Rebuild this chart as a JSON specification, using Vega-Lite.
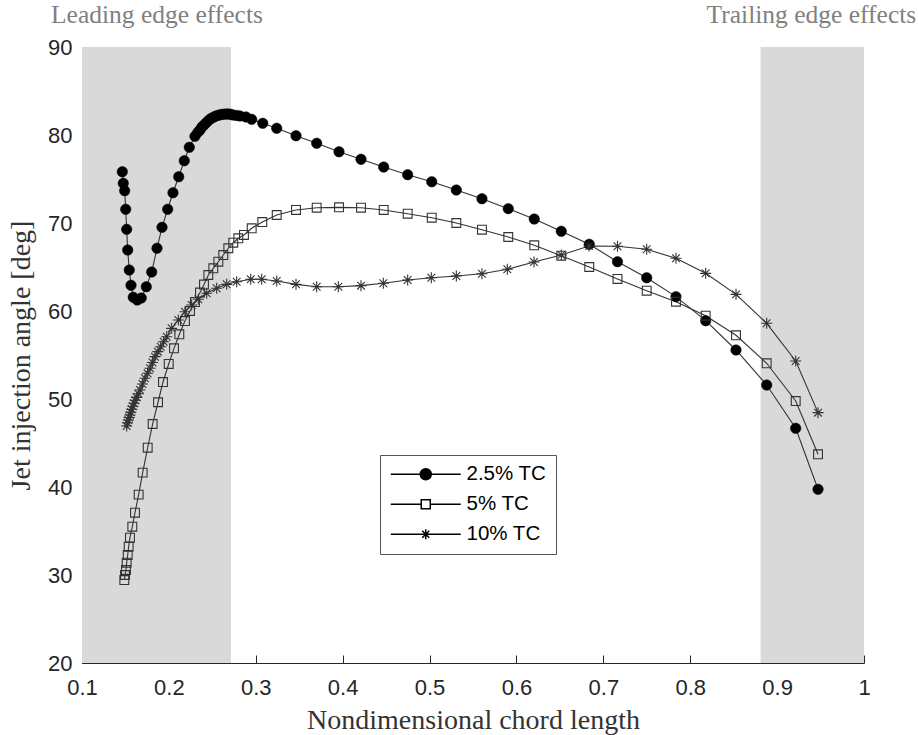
{
  "$schema": "https://vega.github.io/schema/vega-lite/v6.json",
  "width": 782,
  "height": 616,
  "autosize": "none",
  "padding": {"left": 82, "top": 47, "right": 54, "bottom": 72},
  "background": "white",
  "datasets": {
    "bands": [
      {"start": 0.1, "end": 0.2715, "label": "Leading edge effects", "mid": 0.1863},
      {"start": 0.881, "end": 1.0, "label": "Trailing edge effects", "mid": 0.9395}
    ],
    "points": [
      {"series": "2.5% TC", "x": 0.1464, "y": 75.83},
      {"series": "2.5% TC", "x": 0.1475, "y": 74.51},
      {"series": "2.5% TC", "x": 0.1491, "y": 73.67},
      {"series": "2.5% TC", "x": 0.1503, "y": 71.56},
      {"series": "2.5% TC", "x": 0.1514, "y": 69.28},
      {"series": "2.5% TC", "x": 0.1526, "y": 66.93},
      {"series": "2.5% TC", "x": 0.1544, "y": 64.66},
      {"series": "2.5% TC", "x": 0.1564, "y": 62.92},
      {"series": "2.5% TC", "x": 0.159, "y": 61.56},
      {"series": "2.5% TC", "x": 0.1636, "y": 61.25},
      {"series": "2.5% TC", "x": 0.1682, "y": 61.48},
      {"series": "2.5% TC", "x": 0.174, "y": 62.76},
      {"series": "2.5% TC", "x": 0.1802, "y": 64.43},
      {"series": "2.5% TC", "x": 0.1863, "y": 67.13},
      {"series": "2.5% TC", "x": 0.1921, "y": 69.51},
      {"series": "2.5% TC", "x": 0.1986, "y": 71.56},
      {"series": "2.5% TC", "x": 0.2047, "y": 73.44},
      {"series": "2.5% TC", "x": 0.2113, "y": 75.26},
      {"series": "2.5% TC", "x": 0.2177, "y": 77.08},
      {"series": "2.5% TC", "x": 0.2235, "y": 78.6},
      {"series": "2.5% TC", "x": 0.23, "y": 79.85},
      {"series": "2.5% TC", "x": 0.2333, "y": 80.3},
      {"series": "2.5% TC", "x": 0.2358, "y": 80.57},
      {"series": "2.5% TC", "x": 0.238, "y": 80.9},
      {"series": "2.5% TC", "x": 0.2404, "y": 81.14},
      {"series": "2.5% TC", "x": 0.243, "y": 81.4},
      {"series": "2.5% TC", "x": 0.2454, "y": 81.63},
      {"series": "2.5% TC", "x": 0.248, "y": 81.85},
      {"series": "2.5% TC", "x": 0.2511, "y": 82.01},
      {"series": "2.5% TC", "x": 0.254, "y": 82.15},
      {"series": "2.5% TC", "x": 0.2569, "y": 82.24},
      {"series": "2.5% TC", "x": 0.26, "y": 82.32},
      {"series": "2.5% TC", "x": 0.2626, "y": 82.35},
      {"series": "2.5% TC", "x": 0.2655, "y": 82.38},
      {"series": "2.5% TC", "x": 0.2684, "y": 82.39},
      {"series": "2.5% TC", "x": 0.271, "y": 82.35},
      {"series": "2.5% TC", "x": 0.2738, "y": 82.27},
      {"series": "2.5% TC", "x": 0.278, "y": 82.22},
      {"series": "2.5% TC", "x": 0.2818, "y": 82.16},
      {"series": "2.5% TC", "x": 0.2887, "y": 82.05},
      {"series": "2.5% TC", "x": 0.2953, "y": 81.78},
      {"series": "2.5% TC", "x": 0.308, "y": 81.33},
      {"series": "2.5% TC", "x": 0.3241, "y": 80.76},
      {"series": "2.5% TC", "x": 0.3463, "y": 79.92},
      {"series": "2.5% TC", "x": 0.3701, "y": 79.06},
      {"series": "2.5% TC", "x": 0.3958, "y": 78.1},
      {"series": "2.5% TC", "x": 0.4211, "y": 77.24},
      {"series": "2.5% TC", "x": 0.4472, "y": 76.36},
      {"series": "2.5% TC", "x": 0.4748, "y": 75.49},
      {"series": "2.5% TC", "x": 0.5025, "y": 74.69},
      {"series": "2.5% TC", "x": 0.5308, "y": 73.75},
      {"series": "2.5% TC", "x": 0.5603, "y": 72.76},
      {"series": "2.5% TC", "x": 0.5906, "y": 71.63},
      {"series": "2.5% TC", "x": 0.6205, "y": 70.45},
      {"series": "2.5% TC", "x": 0.6516, "y": 69.06},
      {"series": "2.5% TC", "x": 0.6838, "y": 67.58},
      {"series": "2.5% TC", "x": 0.7163, "y": 65.6},
      {"series": "2.5% TC", "x": 0.7499, "y": 63.78},
      {"series": "2.5% TC", "x": 0.7836, "y": 61.63},
      {"series": "2.5% TC", "x": 0.8178, "y": 58.9},
      {"series": "2.5% TC", "x": 0.8527, "y": 55.57},
      {"series": "2.5% TC", "x": 0.888, "y": 51.59},
      {"series": "2.5% TC", "x": 0.9214, "y": 46.67},
      {"series": "2.5% TC", "x": 0.9471, "y": 39.74},
      {"series": "5% TC", "x": 0.1487, "y": 29.43},
      {"series": "5% TC", "x": 0.1495, "y": 30.0},
      {"series": "5% TC", "x": 0.1506, "y": 30.57},
      {"series": "5% TC", "x": 0.1514, "y": 31.4},
      {"series": "5% TC", "x": 0.1526, "y": 32.27},
      {"series": "5% TC", "x": 0.1537, "y": 33.22},
      {"series": "5% TC", "x": 0.1552, "y": 34.24},
      {"series": "5% TC", "x": 0.1579, "y": 35.49},
      {"series": "5% TC", "x": 0.161, "y": 37.08},
      {"series": "5% TC", "x": 0.1652, "y": 39.13},
      {"series": "5% TC", "x": 0.1698, "y": 41.63},
      {"series": "5% TC", "x": 0.1756, "y": 44.47},
      {"series": "5% TC", "x": 0.1813, "y": 47.16},
      {"series": "5% TC", "x": 0.1875, "y": 49.63},
      {"series": "5% TC", "x": 0.1932, "y": 51.93},
      {"series": "5% TC", "x": 0.1998, "y": 53.98},
      {"series": "5% TC", "x": 0.2059, "y": 55.76},
      {"series": "5% TC", "x": 0.212, "y": 57.35},
      {"series": "5% TC", "x": 0.2185, "y": 58.86},
      {"series": "5% TC", "x": 0.2243, "y": 60.0},
      {"series": "5% TC", "x": 0.23, "y": 61.02},
      {"series": "5% TC", "x": 0.2358, "y": 62.1},
      {"series": "5% TC", "x": 0.2404, "y": 63.01},
      {"series": "5% TC", "x": 0.2454, "y": 64.09},
      {"series": "5% TC", "x": 0.2511, "y": 64.85},
      {"series": "5% TC", "x": 0.2569, "y": 65.6},
      {"series": "5% TC", "x": 0.2626, "y": 66.36},
      {"series": "5% TC", "x": 0.2684, "y": 67.13},
      {"series": "5% TC", "x": 0.2741, "y": 67.76},
      {"series": "5% TC", "x": 0.2799, "y": 68.26},
      {"series": "5% TC", "x": 0.2864, "y": 68.64},
      {"series": "5% TC", "x": 0.2953, "y": 69.4},
      {"series": "5% TC", "x": 0.3075, "y": 70.11},
      {"series": "5% TC", "x": 0.3241, "y": 70.91},
      {"series": "5% TC", "x": 0.3463, "y": 71.48},
      {"series": "5% TC", "x": 0.3701, "y": 71.74},
      {"series": "5% TC", "x": 0.3958, "y": 71.78},
      {"series": "5% TC", "x": 0.4211, "y": 71.74},
      {"series": "5% TC", "x": 0.4472, "y": 71.48},
      {"series": "5% TC", "x": 0.4748, "y": 71.06},
      {"series": "5% TC", "x": 0.5025, "y": 70.6},
      {"series": "5% TC", "x": 0.5308, "y": 70.0},
      {"series": "5% TC", "x": 0.5603, "y": 69.24},
      {"series": "5% TC", "x": 0.5906, "y": 68.41},
      {"series": "5% TC", "x": 0.6205, "y": 67.47},
      {"series": "5% TC", "x": 0.6516, "y": 66.28},
      {"series": "5% TC", "x": 0.6838, "y": 65.0},
      {"series": "5% TC", "x": 0.7163, "y": 63.64},
      {"series": "5% TC", "x": 0.7499, "y": 62.31},
      {"series": "5% TC", "x": 0.7836, "y": 61.06},
      {"series": "5% TC", "x": 0.8178, "y": 59.47},
      {"series": "5% TC", "x": 0.8527, "y": 57.24},
      {"series": "5% TC", "x": 0.888, "y": 54.06},
      {"series": "5% TC", "x": 0.9214, "y": 49.77},
      {"series": "5% TC", "x": 0.9471, "y": 43.72},
      {"series": "10% TC", "x": 0.1514, "y": 46.93},
      {"series": "10% TC", "x": 0.1524, "y": 47.3},
      {"series": "10% TC", "x": 0.1533, "y": 47.61},
      {"series": "10% TC", "x": 0.1542, "y": 47.9},
      {"series": "10% TC", "x": 0.1552, "y": 48.18},
      {"series": "10% TC", "x": 0.1562, "y": 48.5},
      {"series": "10% TC", "x": 0.1572, "y": 48.83},
      {"series": "10% TC", "x": 0.1585, "y": 49.17},
      {"series": "10% TC", "x": 0.1598, "y": 49.51},
      {"series": "10% TC", "x": 0.1613, "y": 49.85},
      {"series": "10% TC", "x": 0.1629, "y": 50.19},
      {"series": "10% TC", "x": 0.1648, "y": 50.6},
      {"series": "10% TC", "x": 0.1668, "y": 51.02},
      {"series": "10% TC", "x": 0.1696, "y": 51.7},
      {"series": "10% TC", "x": 0.1725, "y": 52.35},
      {"series": "10% TC", "x": 0.1754, "y": 52.92},
      {"series": "10% TC", "x": 0.1783, "y": 53.49},
      {"series": "10% TC", "x": 0.1811, "y": 54.15},
      {"series": "10% TC", "x": 0.184, "y": 54.81},
      {"series": "10% TC", "x": 0.1873, "y": 55.38},
      {"series": "10% TC", "x": 0.1906, "y": 55.94},
      {"series": "10% TC", "x": 0.194, "y": 56.5},
      {"series": "10% TC", "x": 0.1975, "y": 57.08},
      {"series": "10% TC", "x": 0.2032, "y": 58.03},
      {"series": "10% TC", "x": 0.2109, "y": 58.98},
      {"series": "10% TC", "x": 0.2185, "y": 59.92},
      {"series": "10% TC", "x": 0.2262, "y": 60.68},
      {"series": "10% TC", "x": 0.2339, "y": 61.33},
      {"series": "10% TC", "x": 0.2435, "y": 62.01},
      {"series": "10% TC", "x": 0.255, "y": 62.58},
      {"series": "10% TC", "x": 0.2665, "y": 63.03},
      {"series": "10% TC", "x": 0.278, "y": 63.33},
      {"series": "10% TC", "x": 0.2942, "y": 63.6},
      {"series": "10% TC", "x": 0.3068, "y": 63.6},
      {"series": "10% TC", "x": 0.3241, "y": 63.41},
      {"series": "10% TC", "x": 0.3463, "y": 63.03},
      {"series": "10% TC", "x": 0.3701, "y": 62.76},
      {"series": "10% TC", "x": 0.395, "y": 62.76},
      {"series": "10% TC", "x": 0.4211, "y": 62.88},
      {"series": "10% TC", "x": 0.4468, "y": 63.15},
      {"series": "10% TC", "x": 0.4748, "y": 63.52},
      {"series": "10% TC", "x": 0.502, "y": 63.78},
      {"series": "10% TC", "x": 0.5308, "y": 63.98},
      {"series": "10% TC", "x": 0.5603, "y": 64.24},
      {"series": "10% TC", "x": 0.5895, "y": 64.74},
      {"series": "10% TC", "x": 0.6202, "y": 65.57},
      {"series": "10% TC", "x": 0.6516, "y": 66.36},
      {"series": "10% TC", "x": 0.6835, "y": 67.39},
      {"series": "10% TC", "x": 0.7163, "y": 67.35},
      {"series": "10% TC", "x": 0.7499, "y": 67.01},
      {"series": "10% TC", "x": 0.7836, "y": 65.99},
      {"series": "10% TC", "x": 0.8178, "y": 64.28},
      {"series": "10% TC", "x": 0.8527, "y": 61.89},
      {"series": "10% TC", "x": 0.888, "y": 58.6},
      {"series": "10% TC", "x": 0.9214, "y": 54.32},
      {"series": "10% TC", "x": 0.9471, "y": 48.45}
    ]
  },
  "layer": [
    {
      "data": {"name": "bands"},
      "mark": {"type": "rect", "color": "#d9d9d9"},
      "encoding": {
        "x": {"field": "start", "type": "quantitative", "scale": {"domain": [0.1, 1], "nice": false, "zero": false},
              "axis": {"title": "Nondimensional chord length", "values": [0.1, 0.2, 0.3, 0.4, 0.5, 0.6, 0.7, 0.8, 0.9, 1], "format": "~g", "titlePadding": 8, "labelPadding": 22, "titleFontSize": 28}},
        "x2": {"field": "end"},
        "y": {"datum": 20, "type": "quantitative", "scale": {"domain": [20, 90], "nice": false, "zero": false},
              "axis": {"title": "Jet injection angle [deg]", "values": [20, 30, 40, 50, 60, 70, 80, 90], "titlePadding": 12, "titleFontSize": 28}},
        "y2": {"datum": 90}
      }
    },
    {
      "data": {"name": "bands"},
      "mark": {"type": "text", "font": "Liberation Serif", "fontSize": 25.5, "color": "#808080", "align": "center", "baseline": "middle"},
      "encoding": {
        "x": {"field": "mid", "type": "quantitative", "axis": {"title": "Nondimensional chord length", "values": [0.1, 0.2, 0.3, 0.4, 0.5, 0.6, 0.7, 0.8, 0.9, 1], "format": "~g", "titlePadding": 8, "labelPadding": 22, "titleFontSize": 28}},
        "y": {"datum": 93.6, "type": "quantitative", "axis": {"title": "Jet injection angle [deg]", "values": [20, 30, 40, 50, 60, 70, 80, 90], "titlePadding": 12, "titleFontSize": 28}},
        "text": {"field": "label"}
      }
    },
    {
      "data": {"name": "points"},
      "mark": {"type": "line", "stroke": "#333333", "strokeWidth": 1.1},
      "encoding": {
        "x": {"field": "x", "type": "quantitative", "axis": {"title": "Nondimensional chord length", "values": [0.1, 0.2, 0.3, 0.4, 0.5, 0.6, 0.7, 0.8, 0.9, 1], "format": "~g", "titlePadding": 8, "labelPadding": 22, "titleFontSize": 28}},
        "y": {"field": "y", "type": "quantitative", "axis": {"title": "Jet injection angle [deg]", "values": [20, 30, 40, 50, 60, 70, 80, 90], "titlePadding": 12, "titleFontSize": 28}},
        "detail": {"field": "series"}
      }
    },
    {
      "data": {"name": "points"},
      "transform": [{"filter": "datum.series == '2.5% TC'"}],
      "mark": {"type": "point", "shape": "circle", "filled": true, "fill": "#000000", "stroke": "#000000", "strokeWidth": 0.5, "size": 110, "opacity": 1},
      "encoding": {
        "x": {"field": "x", "type": "quantitative", "axis": {"title": "Nondimensional chord length", "values": [0.1, 0.2, 0.3, 0.4, 0.5, 0.6, 0.7, 0.8, 0.9, 1], "format": "~g", "titlePadding": 8, "labelPadding": 22, "titleFontSize": 28}},
        "y": {"field": "y", "type": "quantitative", "axis": {"title": "Jet injection angle [deg]", "values": [20, 30, 40, 50, 60, 70, 80, 90], "titlePadding": 12, "titleFontSize": 28}}
      }
    },
    {
      "data": {"name": "points"},
      "transform": [{"filter": "datum.series == '5% TC'"}],
      "mark": {"type": "point", "shape": "square", "filled": false, "stroke": "#333333", "strokeWidth": 1.1, "size": 78, "opacity": 1},
      "encoding": {
        "x": {"field": "x", "type": "quantitative", "axis": {"title": "Nondimensional chord length", "values": [0.1, 0.2, 0.3, 0.4, 0.5, 0.6, 0.7, 0.8, 0.9, 1], "format": "~g", "titlePadding": 8, "labelPadding": 22, "titleFontSize": 28}},
        "y": {"field": "y", "type": "quantitative", "axis": {"title": "Jet injection angle [deg]", "values": [20, 30, 40, 50, 60, 70, 80, 90], "titlePadding": 12, "titleFontSize": 28}}
      }
    },
    {
      "data": {"name": "points"},
      "transform": [{"filter": "datum.series == '10% TC'"}],
      "mark": {"type": "point", "shape": "M-1,0L1,0M0,-1L0,1M-0.7,-0.7L0.7,0.7M-0.7,0.7L0.7,-0.7", "filled": false, "stroke": "#333333", "strokeWidth": 1.1, "size": 121, "opacity": 1},
      "encoding": {
        "x": {"field": "x", "type": "quantitative", "axis": {"title": "Nondimensional chord length", "values": [0.1, 0.2, 0.3, 0.4, 0.5, 0.6, 0.7, 0.8, 0.9, 1], "format": "~g", "titlePadding": 8, "labelPadding": 22, "titleFontSize": 28}},
        "y": {"field": "y", "type": "quantitative", "axis": {"title": "Jet injection angle [deg]", "values": [20, 30, 40, 50, 60, 70, 80, 90], "titlePadding": 12, "titleFontSize": 28}}
      }
    },
    {
      "data": {"name": "points"},
      "transform": [{"filter": "datum.series == 'none'"}],
      "mark": {"type": "point", "filled": true, "stroke": "#000000", "strokeWidth": 1, "opacity": 1},
      "encoding": {
        "x": {"field": "x", "type": "quantitative", "axis": {"title": "Nondimensional chord length", "values": [0.1, 0.2, 0.3, 0.4, 0.5, 0.6, 0.7, 0.8, 0.9, 1], "format": "~g", "titlePadding": 8, "labelPadding": 22, "titleFontSize": 28}},
        "y": {"field": "y", "type": "quantitative", "axis": {"title": "Jet injection angle [deg]", "values": [20, 30, 40, 50, 60, 70, 80, 90], "titlePadding": 12, "titleFontSize": 28}},
        "shape": {
          "field": "series", "type": "nominal",
          "scale": {
            "domain": ["2.5% TC", "5% TC", "10% TC"],
            "range": [
              "M-6.36,0L6.36,0M-1,0A1,1,0,1,1,1,0A1,1,0,1,1,-1,0Z",
              "M-6.36,0L-0.82,0M0.82,0L6.36,0M-0.82,-0.82L0.82,-0.82L0.82,0.82L-0.82,0.82Z",
              "M-6.36,0L6.36,0M0,-0.9L0,0.9M-0.64,-0.64L0.64,0.64M-0.64,0.64L0.64,-0.64"
            ]
          },
          "legend": {"orient": "none", "legendX": 298, "legendY": 408, "title": null, "symbolSize": 121, "symbolOffset": 26.5, "labelOffset": 30.5, "symbolOpacity": 1, "labelFont": "Liberation Sans", "labelFontSize": 20.5, "labelColor": "#000000", "padding": 9, "strokeColor": "#555555", "fillColor": "#ffffff", "rowPadding": 9,
                     "encode": {"symbols": {"update": {"stroke": {"value": "#000000"}, "strokeWidth": {"value": 1}, "opacity": {"value": 1}}}}}
        },
        "fill": {
          "field": "series", "type": "nominal",
          "scale": {"domain": ["2.5% TC", "5% TC", "10% TC"], "range": ["#000000", "#ffffff", "#000000"]},
          "legend": {"orient": "none", "legendX": 298, "legendY": 408, "title": null, "symbolSize": 121, "symbolOffset": 26.5, "labelOffset": 30.5, "symbolOpacity": 1, "labelFont": "Liberation Sans", "labelFontSize": 20.5, "labelColor": "#000000", "padding": 9, "strokeColor": "#555555", "fillColor": "#ffffff", "rowPadding": 9,
                     "encode": {"symbols": {"update": {"stroke": {"value": "#000000"}, "strokeWidth": {"value": 1}, "opacity": {"value": 1}}}}}
        }
      }
    }
  ],
  "config": {
    "view": {"stroke": null},
    "axis": {
      "grid": false,
      "domainColor": "#262626",
      "domainWidth": 1,
      "tickColor": "#262626",
      "tickSize": -8,
      "labelFont": "Liberation Sans",
      "labelFontSize": 22,
      "labelColor": "#262626",
      "labelPadding": 18,
      "labelFlush": false,
      "titleFont": "Liberation Serif",
      "titleFontSize": 26,
      "titleFontWeight": "normal",
      "titleColor": "#333333"
    }
  }
}
